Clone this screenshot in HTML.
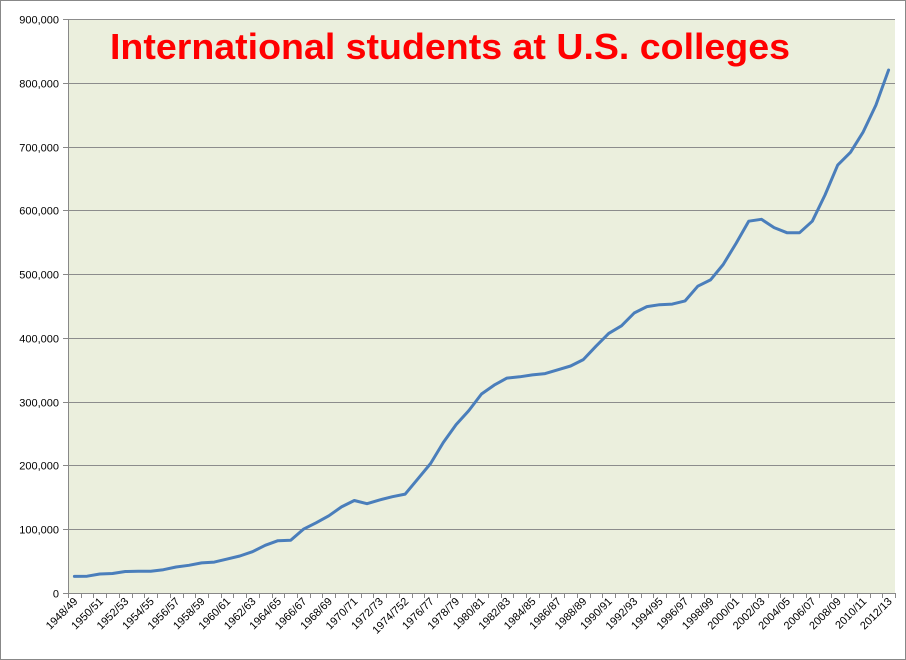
<!DOCTYPE html>
<html><head><meta charset="utf-8"><style>
html,body{margin:0;padding:0;background:#fff;}
svg{display:block;font-family:"Liberation Sans",sans-serif;}
</style></head><body>
<svg id="chart" width="906" height="660">
<rect x="0.5" y="0.5" width="905" height="659" fill="#fff" stroke="#888"/>
<rect x="68" y="19" width="827" height="574" fill="#ebefdd"/>
<g id="grid"></g><g id="yaxis"></g><g id="xaxis"></g><g id="series"></g>
<text x="110" y="59" fill="#ff0000" font-size="36" font-weight="bold" textLength="680" lengthAdjust="spacingAndGlyphs">International students at U.S. colleges</text>
</svg>
<script>
const startYear = 1948;
const values = [26,26.4,29.8,30.5,33.7,34,34.2,36.5,40.7,43.4,47.2,48.5,53.1,58,64.7,74.8,82,82.7,100,110,121,135,145,140,146,151,155,179,203,236,264,286,312,326,337,339,342,344,350,356,366,387,407,419,439,449,452,453,458,481,491,515,548,583,586,573,565,565,583,624,671,691,723,765,820].map(v=>v*1000);
const categories = values.map((_, i) => { const y = startYear + i; return y + '/' + String((y + 1) % 100).padStart(2, '0'); });
categories[26] = '1974/752';
const yTicks = [0,100000,200000,300000,400000,500000,600000,700000,800000,900000];
const NS='http://www.w3.org/2000/svg';
const L=68,R=895,T=19,B=593,MAX=900000;
const step=(R-L)/values.length;
const xc=i=>L+step*(i+0.5);
const ys=v=>B-v/MAX*(B-T);
function mk(tag,attrs,parent){const e=document.createElementNS(NS,tag);for(const k in attrs)e.setAttribute(k,attrs[k]);parent.appendChild(e);return e;}
const grid=document.getElementById('grid'),ya=document.getElementById('yaxis'),xa=document.getElementById('xaxis'),ser=document.getElementById('series');
yTicks.forEach(t=>{
  const y=Math.round(ys(t))+0.5;
  if(t>0){const g=mk('line',{x1:L,x2:R,y1:y,y2:y,stroke:'#8c8c8c','stroke-width':1},grid);
  
  }
  const tk=mk('line',{x1:L-5,x2:L,y1:y,y2:y,stroke:'#888'},ya);
  
  
  const tx=mk('text',{x:L-9,y:y+4,'text-anchor':'end','font-size':11,fill:'#000'},ya);
  tx.textContent=t.toLocaleString('en-US');
  
  
});
const ax=mk('line',{x1:L+0.5,x2:L+0.5,y1:T,y2:B,stroke:'#888'},ya);


const bx=mk('line',{x1:L,x2:R,y1:B+0.5,y2:B+0.5,stroke:'#888'},xa);


for(let i=0;i<=values.length;i++){
  const x=Math.round(L+step*i)+0.5;
  const tk=mk('line',{x1:x,x2:x,y1:B,y2:B+5,stroke:'#888'},xa);
  
  
}
categories.forEach((c,i)=>{
  if(i%2)return;
  const x=xc(i)+4,y=B+9;
  const tx=mk('text',{x:x,y:y,'text-anchor':'end','font-size':11,fill:'#000',transform:`rotate(-45 ${x} ${y})`},xa);
  tx.textContent=c;
  
  
});
const p=mk('polyline',{points:values.map((v,i)=>xc(i).toFixed(1)+','+ys(v).toFixed(1)).join(' '),fill:'none',stroke:'#4a7ebb','stroke-width':3,'stroke-linejoin':'round','stroke-linecap':'round'},ser);


</script>
</body></html>
